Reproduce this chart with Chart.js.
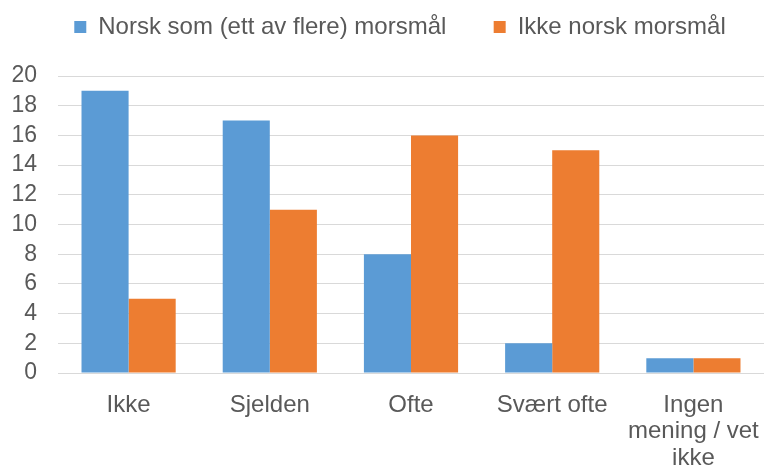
<!DOCTYPE html>
<html>
<head>
<meta charset="utf-8">
<script src="https://cdn.jsdelivr.net/npm/chart.js@4/dist/chart.umd.min.js"></script>
<style>
  html, body { margin: 0; padding: 0; background: #fff; }
  #wrap { width: 764px; height: 466px; }
</style>
</head>
<body>
<div id="wrap"><canvas id="myChart"></canvas></div>
<script>
const categories = ["Ikke", "Sjelden", "Ofte", "Svært ofte", ["Ingen", "mening / vet", "ikke"]];
const norsk = [19, 17, 8, 2, 1];
const ikkeNorsk = [5, 11, 16, 15, 1];
const yTicks = [0, 2, 4, 6, 8, 10, 12, 14, 16, 18, 20];

const FONT = "'Liberation Sans', Arial, sans-serif";
const TEXT = "#595959";

// nudge the legend into the place it has in the original
const legendShift = {
  id: "legendShift",
  afterLayout(chart) {
    const lg = chart.legend;
    lg.left += 13;
    lg.right += 13;
    lg.top -= 27;
    lg.bottom -= 27;
  },
};

var ctx = document.getElementById("myChart").getContext("2d");
var myChart = new Chart(ctx, {
  type: "bar",
  data: {
    labels: categories,
    datasets: [
      {
        label: "Norsk som (ett av flere) morsmål",
        data: norsk,
        backgroundColor: "#5B9BD5",
        borderWidth: 0,
      },
      {
        label: "Ikke norsk morsmål",
        data: ikkeNorsk,
        backgroundColor: "#ED7D31",
        borderWidth: 0,
      },
    ],
  },
  plugins: [legendShift],
  options: {
    responsive: true,
    maintainAspectRatio: false,
    animation: false,
    layout: { padding: { left: 10, right: 0, top: 0, bottom: 0 } },
    datasets: {
      bar: { categoryPercentage: 0.667, barPercentage: 1 },
    },
    plugins: {
      legend: {
        position: "top",
        labels: {
          font: { family: FONT, size: 24 },
          color: TEXT,
          boxWidth: 12,
          boxHeight: 12,
          padding: 14,
          generateLabels(chart) {
            const items = Chart.defaults.plugins.legend.labels.generateLabels(chart);
            items[0].text += "     ";
            return items;
          },
        },
      },
      tooltip: { enabled: false },
    },
    scales: {
      x: {
        grid: { display: false, drawTicks: false },
        border: { color: "#d9d9d9", width: 1 },
        ticks: {
          font: { family: FONT, size: 24, lineHeight: 1.1 },
          color: TEXT,
          padding: 19,
          maxRotation: 0,
          autoSkip: false,
        },
        afterFit: (scale) => {
          scale.height = 93;
          scale.paddingLeft = 0;
          scale.paddingRight = 0;
        },
      },
      y: {
        min: 0,
        max: 20,
        afterBuildTicks: (axis) => { axis.ticks = yTicks.map(v => ({ value: v })); },
        grid: { color: "#d9d9d9", drawTicks: false },
        border: { display: false },
        ticks: {
          font: { family: FONT, size: 23 },
          color: TEXT,
          padding: 21,
          autoSkip: false,
        },
        afterFit: (scale) => {
          scale.width = 48;
          scale.paddingTop = 76;
          scale.paddingBottom = 0;
        },
      },
    },
  },
});
</script>
</body>
</html>
